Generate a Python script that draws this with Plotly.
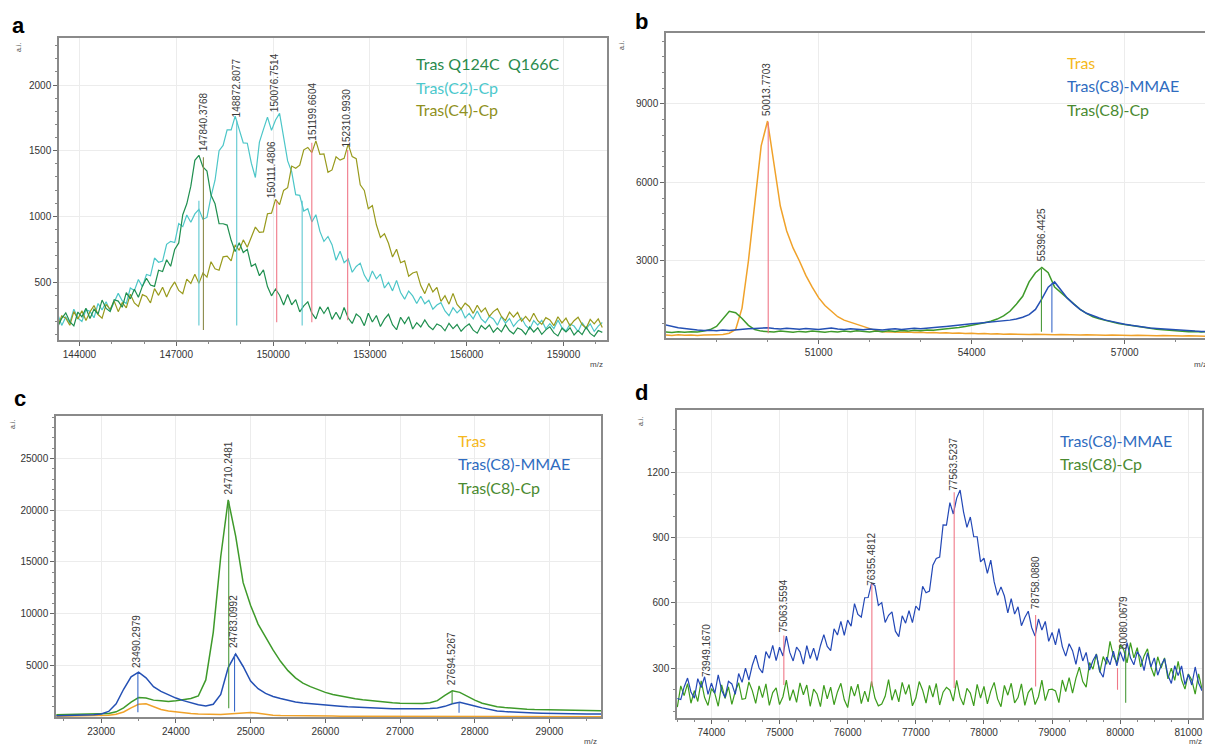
import plotly.graph_objects as go

W, H = 1213, 751          # reference picture size
OFF = 8                   # browser body margin
FW, FH = W - OFF, H - OFF # figure size

# ---------------- data ----------------
# Panel a : m/z grid start / step, three spectra
a_mz_start, a_mz_step = 143200, 125
a_green = [236,160,224,266,198,167,272,235,300,222,
           293,256,363,299,275,365,355,308,420,372,
           446,385,469,529,478,467,590,580,670,620,
           748,798,1013,1096,1230,1427,1465,1376,1345,1162,
           1096,945,944,934,818,732,800,725,750,620,
           638,548,593,466,395,447,400,326,405,327,
           366,273,319,349,263,220,312,261,310,216,
           270,216,307,226,185,257,231,168,263,196,
           246,162,218,255,176,137,232,184,236,143,
           191,158,212,163,138,181,166,129,186,146,
           177,126,159,181,134,111,169,141,173,118,
           152,121,176,129,106,151,137,101,159,120,
           152,102,136,159,113,90,148,120,152,97,
           131,100,156,109,86,131,117]
a_cyan = [195,255,170,234,190,293,226,200,289,277,
          228,337,287,351,280,354,414,358,337,455,
          435,520,465,558,548,683,651,660,787,810,
          801,945,922,1011,955,1019,1054,978,992,1150,
          1275,1500,1540,1658,1658,1763,1656,1560,1557,1405,
          1296,1565,1662,1756,1655,1734,1784,1598,1422,1340,
          1165,1160,1040,1058,958,1013,886,810,847,785,
          666,735,647,676,575,619,644,553,502,585,
          525,560,455,498,433,513,421,370,432,395,
          337,392,335,361,293,325,343,280,244,305,
          266,297,227,261,220,280,220,190,239,219,
          172,237,187,222,162,201,226,170,141,207,
          172,209,144,183,146,210,154,128,181,165,
          122,191,145,182,124,165,192]
a_olive = [196,163,243,225,171,275,219,281,207,274,
           321,253,225,330,293,355,275,343,303,408,
           341,315,404,390,341,450,399,461,387,454,
           501,436,412,522,490,560,490,568,538,655,
           601,590,692,697,661,783,742,821,765,849,
           919,878,882,1020,1025,1130,1090,1198,1218,1383,
           1366,1390,1507,1525,1486,1575,1472,1476,1335,1354,
           1454,1428,1442,1550,1455,1440,1240,1198,1058,1083,
           936,840,867,795,691,750,647,661,545,569,
           579,473,412,490,425,460,353,396,332,414,
           330,295,339,314,262,324,272,303,239,275,
           297,238,207,271,234,269,202,239,200,263,
           206,178,229,212,168,236,189,225,166,206,
           232,177,149,216,182,219,154]
a_stem_mz = [147700, 147840, 148872, 150111, 150900, 151199, 152310]
a_stem_top = [1120, 1450, 1730, 1120, 1120, 1560, 1505]
a_stem_bottom = [170, 135, 170, 195, 170, 195, 210]
a_stem_kind = ["cyan", "olive", "cyan", "red", "cyan", "red", "red"]
a_label_text = ["147840.3768", "148872.8077", "150076.7514", "150111.4806", "151199.6604", "152310.9930"]
a_label_mz = [147840, 148872, 150030, 149960, 151230, 152280]
a_label_base = [1480, 1740, 1775, 1125, 1560, 1510]

# Panel b
b_mz_start, b_mz_step = 48000, 125
b_tras = [170,150,180,160,175,150,170,165,185,190,
          240,380,1200,3000,5100,7400,8350,6800,5100,4150,
          3500,3000,2450,2000,1600,1300,1080,870,740,660,
          590,520,430,340,300,290,300,280,290,270,
          280,260,270,250,260,240,250,230,240,220,
          230,210,220,200,210,195,205,190,200,185,
          195,180,190,175,185,170,180,165,175,160,
          170,155,165,150,160,145,155,140,150,135,
          145,130,140,125,135,120]
b_cp = [290,270,300,280,300,290,320,380,500,800,
        1080,1020,800,540,380,320,310,290,320,300,
        280,310,290,320,300,280,310,290,320,300,
        330,310,290,320,300,330,310,340,320,350,
        330,360,350,380,400,430,460,500,540,580,
        640,700,780,900,1080,1350,1650,2200,2550,2750,
        2550,2000,1780,1560,1350,1150,1000,870,790,720,
        660,610,570,530,490,450,420,390,370,350,
        330,320,300,310,290,300]
b_mmae = [560,500,450,420,380,360,340,350,330,360,
          340,370,390,410,420,430,450,420,400,430,
          410,390,420,400,380,410,440,400,380,410,
          390,370,400,380,360,390,410,380,400,430,
          410,440,460,480,500,530,560,580,600,620,
          640,660,680,700,740,780,850,950,1150,1550,
          2000,2200,1900,1580,1350,1150,1000,900,820,740,
          680,620,580,540,500,470,440,420,400,380,
          360,340,330,320,310,300]
b_stem_mz = [50013, 55367, 55572]
b_stem_top = [8300, 2700, 2150]
b_stem_bottom = [235, 300, 270]
b_stem_kind = ["red", "green", "blue"]
b_label_text = ["50013.7703", "55396.4425"]
b_label_mz = [49990, 55360]
b_label_base = [8450, 2900]

# Panel c
c_mz_start, c_mz_step = 22400, 100
c_tras = [100,110,100,120,110,130,150,200,280,500,
          900,1250,1300,1000,750,600,500,430,370,320,
          280,250,260,300,340,420,460,380,260,200,
          170,150,140,130,120,115,
          110,105,100,100,95,95,90,90,85,85,80,80,75,75,70,70,68,66,64,62,
          60,58,56,55,54,53,52,51,50,50,49,48,47,46,45,44,43,42]
c_mmae = [150,170,160,190,200,240,320,560,1300,2700,
          3900,4350,3800,2950,2500,2150,1850,1600,1380,1200,
          1080,1250,2200,4800,6100,4900,3500,2750,2300,2000,
          1800,1620,1480,1380,1300,1230,1160,1100,1050,1000,
          960,920,890,860,840,820,810,800,800,810,
          840,900,1050,1300,1450,1300,1080,900,720,610,
          540,490,450,420,400,380,360,350,340,330,
          330,320,320,310]
c_cp = [230,250,220,260,240,270,290,360,520,900,
        1450,1900,1850,1650,1580,1520,1580,1700,1800,2050,
        3600,8200,15500,21000,17500,13000,10800,9000,7700,6500,
        5400,4500,3800,3300,2950,2650,2400,2200,2050,1900,
        1780,1680,1600,1520,1450,1400,1360,1330,1320,1330,
        1400,1600,2100,2550,2400,2000,1650,1350,1150,1020,
        930,860,810,770,740,720,700,680,670,660,
        650,640,630,630]
c_stem_mz = [23491, 24707, 24785, 27697, 27790]
c_stem_top = [4300, 20900, 6050, 2500, 1420]
c_stem_bottom = [480, 870, 550, 1290, 420]
c_stem_kind = ["blue", "green", "blue", "green", "blue"]
c_label_text = ["23490.2979", "24710.2481", "24783.0992", "27694.5267"]
c_label_mz = [23480, 24700, 24780, 27690]
c_label_base = [4520, 21300, 6450, 2900]

# Panel d
d_mz_start, d_mz_step = 73500, 50
d_mmae = [160,155,213,254,190,161,251,210,260,179,
          231,184,269,198,165,239,227,179,275,234,
          300,245,313,359,300,278,376,345,405,334,
          396,356,447,372,333,397,375,318,403,344,
          392,335,403,454,400,380,481,452,515,451,
          521,493,597,547,535,624,625,690,680,589,
          602,510,543,559,470,445,541,507,565,509,
          586,566,677,647,655,774,805,811,960,959,
          1062,1010,1083,1120,1020,948,996,905,905,789,
          806,736,797,697,635,674,632,554,620,549,
          582,495,533,562,487,448,526,475,515,423,
          464,407,482,399,355,412,380,317,398,333,
          372,291,335,363,285,258,351,315,378,310,
          376,331,417,347,315,376,350,288,370,306,
          347,267,313,343,267,229,311,265,310,224,
          271,222,305,231,195]
d_cp = [120,218,173,228,138,196,146,241,164,128,
        205,183,124,223,160,214,133,192,232,156,
        160,236,196,137,218,164,227,128,187,209,
        132,168,245,150,200,142,232,177,222,124,
        203,181,122,221,158,212,131,190,230,154,
        118,216,171,226,136,194,144,239,162,126,
        134,170,247,152,202,144,234,179,224,126,
        162,238,198,139,220,166,229,130,189,211,
        198,148,243,166,130,207,185,126,225,162,
        216,135,194,234,158,122,220,175,230,140,
        164,227,128,187,209,132,168,245,150,200,
        203,195,141,245,192,256,185,254,304,238,
        212,325,295,365,280,353,318,423,356,325,
        407,385,324,417,347,394,305,356,389,305,
        262,352,300,347,250,300,243,331,246,203,
        273,245,180,273,204]
d_stem_mz = [75063, 76355, 77563, 78758, 79960, 80080]
d_stem_top = [450, 690, 1110, 545, 300, 380]
d_stem_bottom = [222, 215, 208, 215, 200, 140]
d_stem_kind = ["red", "red", "red", "red", "red", "green"]
d_label_text = ["73949.1670", "75063.5594", "76355.4812", "77563.5237", "78758.0880", "80080.0679"]
d_label_mz = [73930, 75060, 76350, 77560, 78750, 80040]
d_label_base = [250, 455, 670, 1110, 560, 380]

# ---------------- styling ----------------
COL = {
    "a_green": "#1f8f4f", "a_cyan": "#4cc6c8", "a_olive": "#989a1c",
    "orange": "#f0a22a", "blue": "#2450b4", "green": "#3e9a2a",
    "d_blue": "#2348b6", "d_green": "#3c9c1c",
}
STEM = {"red": "#f07888", "cyan": "#5cc8d0", "olive": "#8c8a4a",
        "green": "#4a9a3a", "blue": "#3a6ac8"}
TICKFONT = dict(family="Liberation Sans, Arial, sans-serif", size=10, color="#333333")
LEGFONT = "Lato, Open Sans, sans-serif"


def fx(px):
    return (px - OFF) / FW


def fy(py):
    return 1 - (py - OFF) / FH


def grid(start, step, n):
    return [start + step * i for i in range(n)]


fig = go.Figure()


def add_line(xs, ys, color, ax, width=1.0):
    fig.add_trace(go.Scatter(x=xs, y=ys, mode="lines", xaxis="x" + ax, yaxis="y" + ax,
                             line=dict(color=color, width=width), hoverinfo="skip",
                             showlegend=False))


def add_stems(mz, top, bottom, kind, ax):
    for k in sorted(set(kind)):
        xs, ys = [], []
        for m, t, b, kk in zip(mz, top, bottom, kind):
            if kk == k:
                xs += [m, m, None]
                ys += [t, b, None]
        fig.add_trace(go.Scatter(x=xs, y=ys, mode="lines", xaxis="x" + ax, yaxis="y" + ax,
                                 line=dict(color=STEM[k], width=1.1), hoverinfo="skip",
                                 showlegend=False))


def add_labels(texts, mz, base, ax):
    for t, m, b in zip(texts, mz, base):
        fig.add_annotation(x=m, y=b, xref="x" + ax, yref="y" + ax, text=t, textangle=-90,
                           showarrow=False, xanchor="center", yanchor="bottom",
                           font=dict(family="Liberation Sans, Arial, sans-serif", size=10,
                                     color="#3a3a3a"))


# panel a
amz = grid(a_mz_start, a_mz_step, len(a_green))
add_line(amz, a_cyan, COL["a_cyan"], "", 1.2)
add_line(amz, a_olive, COL["a_olive"], "", 1.2)
add_line(amz, a_green, COL["a_green"], "", 1.2)
add_stems(a_stem_mz, a_stem_top, a_stem_bottom, a_stem_kind, "")
add_labels(a_label_text, a_label_mz, a_label_base, "")

# panel b
bmz = grid(b_mz_start, b_mz_step, len(b_tras))
add_line(bmz, b_tras, COL["orange"], "2", 1.5)
add_line(bmz, b_cp, COL["green"], "2", 1.5)
add_line(bmz, b_mmae, COL["blue"], "2", 1.5)
add_stems(b_stem_mz, b_stem_top, b_stem_bottom, b_stem_kind, "2")
add_labels(b_label_text, b_label_mz, b_label_base, "2")

# panel c
cmz = grid(c_mz_start, c_mz_step, len(c_tras))
add_line(cmz, c_tras, COL["orange"], "3", 1.5)
add_line(cmz, c_cp, COL["green"], "3", 1.5)
add_line(cmz, c_mmae, COL["blue"], "3", 1.5)
add_stems(c_stem_mz, c_stem_top, c_stem_bottom, c_stem_kind, "3")
add_labels(c_label_text, c_label_mz, c_label_base, "3")

# panel d
dmz = grid(d_mz_start, d_mz_step, len(d_mmae))
add_line(dmz, d_cp, COL["d_green"], "4", 1.2)
add_line(dmz, d_mmae, COL["d_blue"], "4", 1.2)
add_stems(d_stem_mz, d_stem_top, d_stem_bottom, d_stem_kind, "4")
add_labels(d_label_text, d_label_mz, d_label_base, "4")


def ax_style(domain, rng, dtick, minor_dtick, anchor):
    return dict(domain=domain, range=rng, anchor=anchor, tickmode="linear", tick0=0,
                dtick=dtick, tickformat="d", showline=True, mirror=True,
                linecolor="#8a8a8a", linewidth=1.5,
                showgrid=True, gridcolor="#ececec", gridwidth=1, zeroline=False,
                ticks="outside", ticklen=4, tickwidth=1, tickcolor="#666666",
                tickfont=TICKFONT,
                minor=dict(dtick=minor_dtick, ticks="outside", ticklen=2, tickcolor="#888888",
                           showgrid=False))


fig.update_layout(
    width=FW, height=FH, margin=dict(l=0, r=0, t=0, b=0),
    paper_bgcolor="white", plot_bgcolor="white", showlegend=False,
    xaxis=ax_style([fx(59), fx(607)], [143365, 160346], 3000, 1000, "y"),
    yaxis=ax_style([fy(340), fy(38)], [59, 2358], 500, 100, "x"),
    xaxis2=ax_style([fx(666), fx(1211)], [48010, 58690], 3000, 1000, "y2"),
    yaxis2=ax_style([fy(338), fy(33)], [57, 11713], 3000, 600, "x2"),
    xaxis3=ax_style([fx(56), fx(601)], [22395, 29690], 1000, 500, "y3"),
    yaxis3=ax_style([fy(717), fy(416)], [20, 29100], 5000, 1000, "x3"),
    xaxis4=ax_style([fx(677), fx(1202)], [73495, 81200], 1000, 250, "y4"),
    yaxis4=ax_style([fy(718), fy(410)], [70, 1489], 300, 100, "x4"),
)

# panel letters
for letter, px, py in [("a", 18, 25), ("b", 641, 22), ("c", 20, 398), ("d", 641, 392)]:
    fig.add_annotation(x=fx(px), y=fy(py), xref="paper", yref="paper", text="<b>%s</b>" % letter,
                       showarrow=False, xanchor="center", yanchor="middle",
                       font=dict(family="Liberation Sans, Arial, sans-serif", size=22, color="black"))

# a.i. and m/z axis titles
for px, py in [(18, 48), (622, 46), (12, 425), (640, 422)]:
    fig.add_annotation(x=fx(px), y=fy(py), xref="paper", yref="paper", text="a.i.", textangle=-90,
                       showarrow=False, xanchor="center", yanchor="middle",
                       font=dict(family="Liberation Sans, Arial, sans-serif", size=7, color="#444"))
for px, py in [(596, 364), (1200, 364), (590, 741), (1195, 741)]:
    fig.add_annotation(x=fx(px), y=fy(py), xref="paper", yref="paper", text="m/z",
                       showarrow=False, xanchor="center", yanchor="middle",
                       font=dict(family="Liberation Sans, Arial, sans-serif", size=8, color="#444"))

# legends (coloured text)
legends = [
    (414, [("Tras Q124C  Q166C", "#2a8a4c"), ("Tras(C2)-Cp", "#4cc8cc"), ("Tras(C4)-Cp", "#8f9020")], [63, 87, 110]),
    (1065, [("Tras", "#f5b820"), ("Tras(C8)-MMAE", "#2f6cc0"), ("Tras(C8)-Cp", "#4a8a30")], [62, 86, 110]),
    (456, [("Tras", "#f5b820"), ("Tras(C8)-MMAE", "#2f6cc0"), ("Tras(C8)-Cp", "#4a8a30")], [440, 463, 487]),
    (1058, [("Tras(C8)-MMAE", "#2f6cc0"), ("Tras(C8)-Cp", "#4a8a30")], [440, 463]),
]
for px, items, pys in legends:
    for (txt, col), py in zip(items, pys):
        fig.add_annotation(x=fx(px), y=fy(py), xref="paper", yref="paper", text=txt,
                           showarrow=False, xanchor="left", yanchor="middle",
                           font=dict(family=LEGFONT, size=16, color=col))

fig.write_html("out.html")
